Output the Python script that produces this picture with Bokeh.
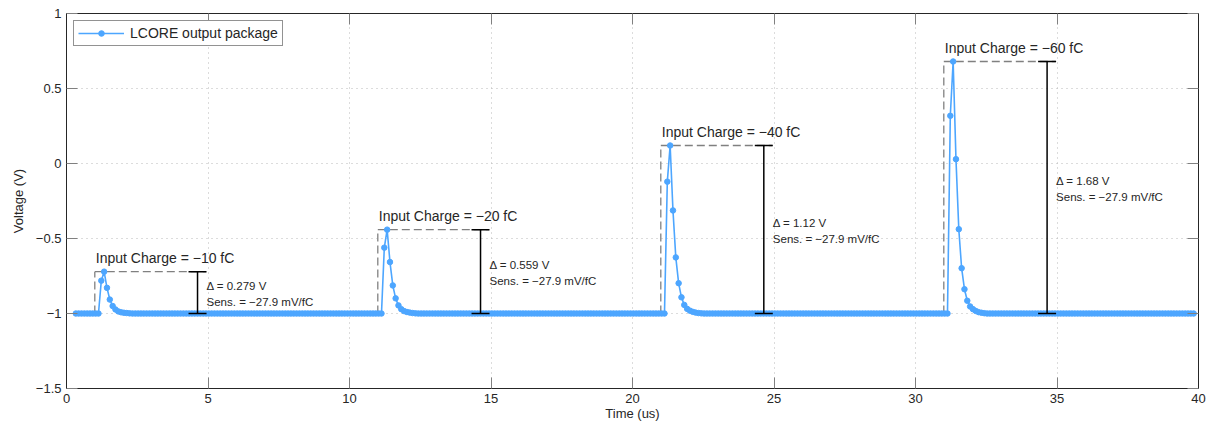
import numpy as np
from bokeh.plotting import figure
from bokeh.models import (ColumnDataSource, LinearAxis, FixedTicker, Whisker, TeeHead, Legend, LegendItem)
from bokeh.core.properties import value
from bokeh.embed import file_html
from bokeh.resources import INLINE

# ---------------- data ----------------
t_start = 0.33          # first sample time (us)
t_step = 0.1            # sample spacing (us)
n_samples = 396
baseline = -1.0         # V

input_t = [1.0, 11.0, 21.0, 31.0]          # injection time (us)
rise_t = [1.23, 11.23, 21.23, 31.23]       # first sample of each pulse
charges = ["\u221210", "\u221220", "\u221240", "\u221260"]
deltas = ["0.279", "0.559", "1.12", "1.68"]
delta_vals = [0.279, 0.559, 1.12, 1.68]
sens = ["\u221227.9", "\u221227.9", "\u221227.9", "\u221227.9"]
bar_t = [4.63, 14.63, 24.64, 34.65]

pulse1 = [-0.781, -0.721, -0.829, -0.907, -0.950, -0.973, -0.986, -0.992, -0.995, -0.997, -0.999]
pulse2 = [-0.561, -0.441, -0.657, -0.813, -0.899, -0.946, -0.971, -0.984, -0.990, -0.994, -0.997, -0.999]
pulse3 = [-0.121, 0.120, -0.313, -0.626, -0.798, -0.892, -0.943, -0.969, -0.981, -0.989, -0.994, -0.997, -0.999]
pulse4 = [0.318, 0.680, 0.029, -0.438, -0.698, -0.838, -0.915, -0.953, -0.971, -0.983, -0.991, -0.995, -0.998]
pulses = [pulse1, pulse2, pulse3, pulse4]

x_ticks = [0, 5, 10, 15, 20, 25, 30, 35, 40]
y_ticks = [-1.5, -1, -0.5, 0, 0.5, 1]
y_tick_labels = ["\u22121.5", "\u22121", "\u22120.5", "0", "0.5", "1"]

# ---------------- assemble series ----------------
t = np.round(t_start + t_step * np.arange(n_samples), 3)
v = np.full(n_samples, baseline)
for rt, pv in zip(rise_t, pulses):
    i0 = int(np.argmin(np.abs(t - rt)))
    v[i0:i0 + len(pv)] = pv
peaks = [baseline + d for d in delta_vals]

BLUE = "#4DA6FF"
DARK = "#262626"
FONT = "Liberation Sans"

p = figure(width=1207, height=427, x_range=(0, 40), y_range=(-1.5, 1),
           output_backend="svg", toolbar_location=None,
           min_border_left=66, min_border_right=9, min_border_top=13, min_border_bottom=39)
p.background_fill_color = "white"
p.border_fill_color = "white"
p.outline_line_color = DARK

# axes
p.xaxis.ticker = FixedTicker(ticks=x_ticks)
p.yaxis.ticker = FixedTicker(ticks=y_ticks)
p.yaxis.major_label_overrides = {tk: lb for tk, lb in zip(y_ticks, y_tick_labels)}
for ax in (p.xaxis[0], p.yaxis[0]):
    ax.major_tick_in = 11
    ax.major_tick_out = 0
    ax.minor_tick_line_color = None
    ax.major_tick_line_color = "#808080"
    ax.axis_line_color = DARK
    ax.major_label_text_font = FONT
    ax.major_label_text_font_size = "13px"
    ax.major_label_text_color = DARK
    ax.axis_label_text_font = FONT
    ax.axis_label_text_font_size = "13px"
    ax.axis_label_text_font_style = "normal"
    ax.axis_label_text_color = DARK
p.xaxis.axis_label = "Time (us)"
p.yaxis.axis_label = "Voltage (V)"
p.xaxis.major_label_standoff = 5
p.xaxis.axis_label_standoff = 0
p.yaxis.major_label_standoff = 5
p.yaxis.axis_label_standoff = 7

top_ax = LinearAxis(ticker=FixedTicker(ticks=x_ticks))
right_ax = LinearAxis(ticker=FixedTicker(ticks=y_ticks))
for ax in (top_ax, right_ax):
    ax.major_tick_in = 11
    ax.major_tick_out = 0
    ax.minor_tick_line_color = None
    ax.major_tick_line_color = "#808080"
    ax.axis_line_color = DARK
    ax.major_label_text_color = None
    ax.major_label_text_font_size = "1px"
    ax.major_label_standoff = 0
p.add_layout(top_ax, "above")
p.add_layout(right_ax, "right")

# grid
for g in (p.xgrid[0], p.ygrid[0]):
    g.grid_line_color = "#b8b8b8"
    g.grid_line_dash = "1 4"
    g.grid_line_width = 1
p.xgrid.ticker = FixedTicker(ticks=x_ticks)
p.ygrid.ticker = FixedTicker(ticks=y_ticks)

# dashed guides
p.segment(x0=input_t, y0=[baseline] * 4, x1=input_t, y1=peaks,
          line_color="#808080", line_dash="8 4", line_width=1.3)
p.segment(x0=input_t, y0=peaks, x1=[b + 0.3 for b in bar_t], y1=peaks,
          line_color="#808080", line_dash="8 4", line_width=1.3)

# main series
src = ColumnDataSource(dict(t=t, v=v))
r_line = p.line("t", "v", source=src, line_color=BLUE, line_width=1.6)
r_pts = p.scatter("t", "v", source=src, size=5.5, fill_color=BLUE, line_color=BLUE)

# delta bars
bsrc = ColumnDataSource(dict(x=bar_t, lower=[baseline] * 4, upper=peaks))
wh = Whisker(source=bsrc, base="x", lower="lower", upper="upper", dimension="height",
             line_color="black", line_width=1.5, level="overlay",
             upper_head=TeeHead(size=18, line_color="black", line_width=1.5),
             lower_head=TeeHead(size=18, line_color="black", line_width=1.5))
p.add_layout(wh)

# texts
tsrc = ColumnDataSource(dict(x=input_t, y=peaks,
                             txt=["Input Charge = %s fC" % c for c in charges]))
p.text(x="x", y="y", text="txt", source=tsrc, x_offset=1, y_offset=-14,
       text_font=value(FONT), text_font_size="14px", text_color=DARK,
       text_baseline="alphabetic", text_align="left")

mids = [(baseline + pk) / 2 for pk in peaks]
dsrc = ColumnDataSource(dict(x=bar_t, y=mids,
                             d=["\u0394 = %s V" % d for d in deltas],
                             s=["Sens. = %s mV/fC" % s for s in sens]))
p.text(x="x", y="y", text="d", source=dsrc, x_offset=9, y_offset=-7,
       text_font=value(FONT), text_font_size="11.5px", text_color=DARK,
       text_baseline="middle", text_align="left")
p.text(x="x", y="y", text="s", source=dsrc, x_offset=9, y_offset=9,
       text_font=value(FONT), text_font_size="11.5px", text_color=DARK,
       text_baseline="middle", text_align="left")

# legend
legend = Legend(items=[LegendItem(label="LCORE output package", renderers=[r_line, r_pts])],
                location="top_left")
legend.margin = 7
legend.padding = 4
legend.spacing = 0
legend.glyph_width = 46
legend.glyph_height = 14
legend.label_standoff = 6
legend.label_text_font = FONT
legend.label_text_font_size = "14px"
legend.label_text_color = DARK
legend.border_line_color = DARK
legend.border_line_width = 1
legend.background_fill_color = "white"
legend.background_fill_alpha = 1
p.add_layout(legend)

open("out.html", "w").write(file_html(p, INLINE))
